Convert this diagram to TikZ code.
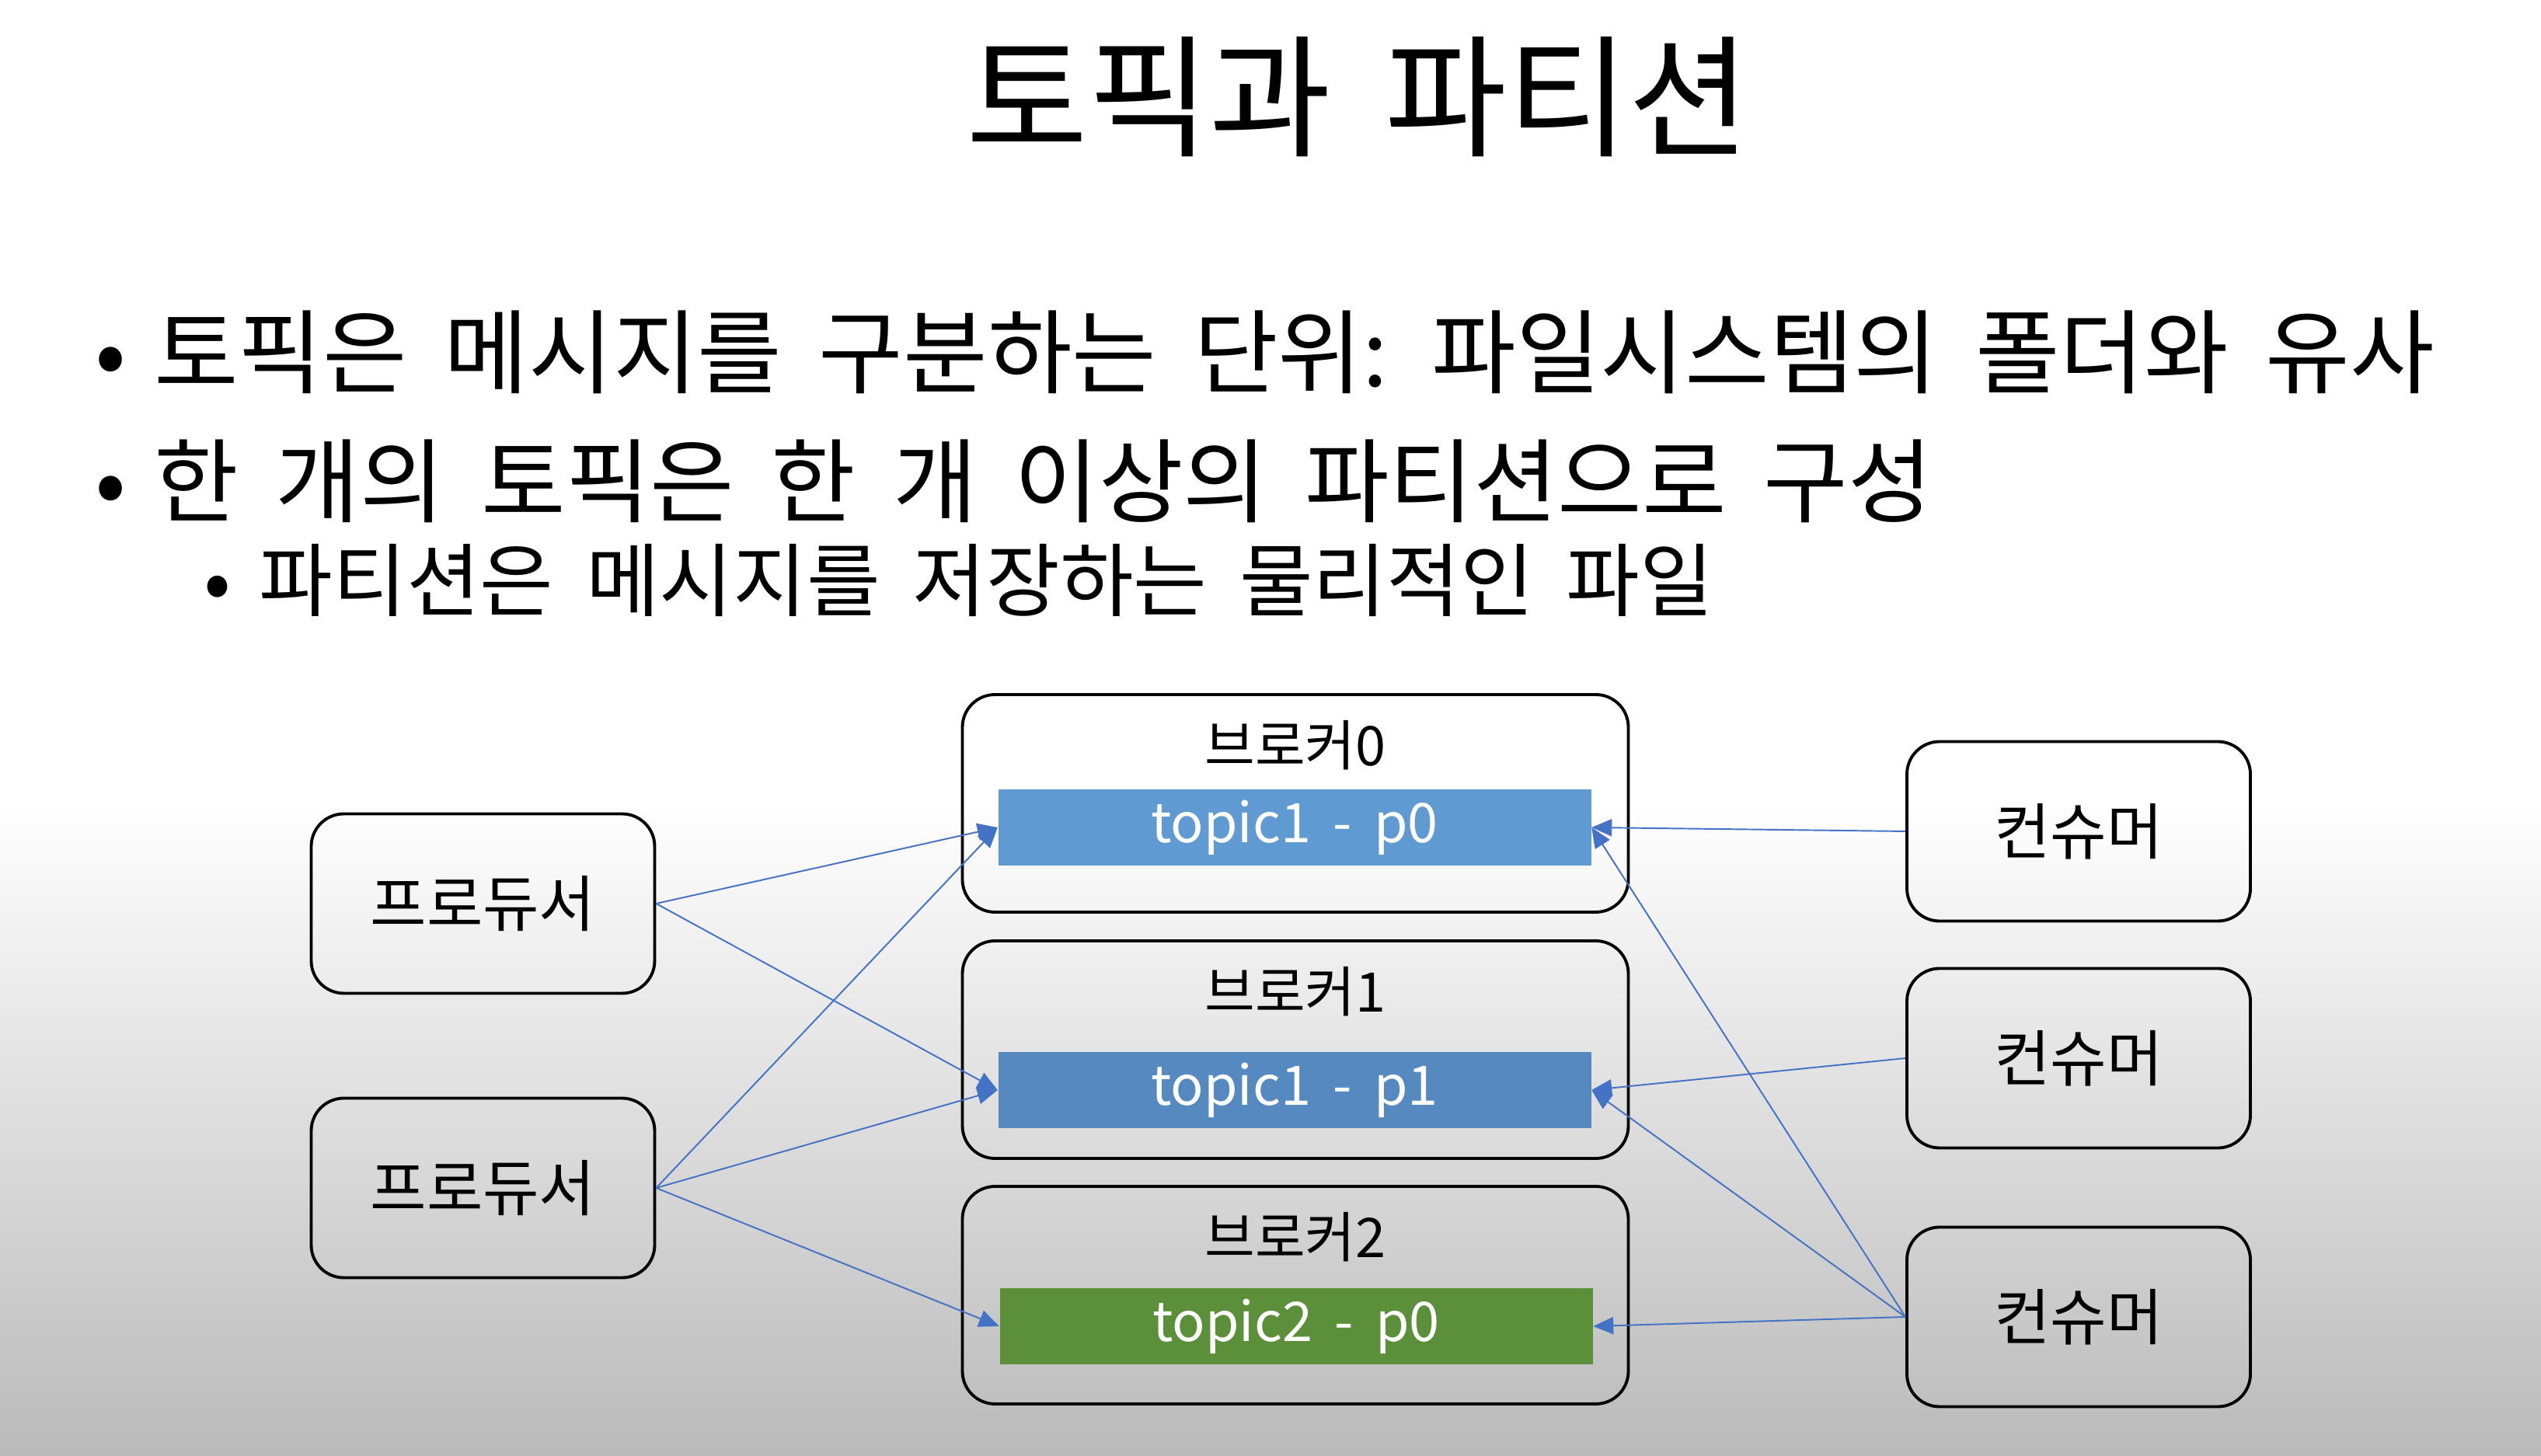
\documentclass[tikz,border=0pt]{standalone}
\usepackage{fontspec}
\setmainfont{Noto Sans CJK KR}[WordSpace=1.8]
\usetikzlibrary{arrows.meta,positioning}

\definecolor{linkblue}{HTML}{4472C4}
\definecolor{partblue}{HTML}{5F9BD2}
\definecolor{partdark}{HTML}{5589C0}
\definecolor{partgreen}{HTML}{5C8F3A}
\definecolor{bgbottom}{HTML}{BABABA}

\begin{document}
\begin{tikzpicture}[
    >={Triangle[length=2.6mm,width=2.2mm]},
    box/.style={
        rectangle,
        rounded corners=4.2mm,
        draw=black,
        line width=1.1pt,
        minimum width=4.42cm,
        minimum height=2.31cm,
        font=\fontsize{22.4}{27}\selectfont
    },
    broker/.style={
        rectangle,
        rounded corners=4.2mm,
        draw=black,
        line width=1.1pt,
        minimum width=8.57cm,
        minimum height=2.8cm
    },
    part/.style={
        rectangle,
        fill=#1,
        minimum width=7.63cm,
        minimum height=0.98cm,
        text=white,
        font=\fontsize{20}{24}\selectfont
    },
    blabel/.style={font=\fontsize{20}{24}\selectfont, inner sep=0pt},
    link/.style={->, draw=linkblue, line width=0.55pt},
    item/.style={anchor=west, inner sep=0pt, font=\fontsize{33.6}{40}\selectfont}
]
\useasboundingbox (0,0) rectangle (32.7,18.73);

% Background
\fill[white] (0,0) rectangle (32.7,18.73);
\shade[top color=white, bottom color=bgbottom] (0,0) rectangle (32.7,8.4);

% Title and bullets
\node[font=\fontsize{48.5}{58}\selectfont] (title) at (17.48,17.48) {토픽과 파티션};
\node[item] (item1) at (1.22,14.20) {•\hspace{0.3em}토픽은 메시지를 구분하는 단위: 파일시스템의 폴더와 유사};
\node[item] (item2) at (1.22,12.54) {•\hspace{0.3em}한 개의 토픽은 한 개 이상의 파티션으로 구성};
\node[item, font=\fontsize{29.3}{35}\selectfont] (item3) at (2.62,11.26) {•\hspace{0.35em}파티션은 메시지를 저장하는 물리적인 파일};

% Producers
\node[box] (prod1) at (6.215,7.10) {프로듀서};
\node[box] (prod2) at (6.215,3.44) {프로듀서};

% Brokers
\node[broker] (brk0) at (16.67,8.39) {};
\node[broker] (brk1) at (16.67,5.22) {};
\node[broker] (brk2) at (16.67,2.06) {};
\node[blabel] (lbl0) at (16.67,9.14) {브로커0};
\node[blabel] (lbl1) at (16.67,5.97) {브로커1};
\node[blabel] (lbl2) at (16.67,2.81) {브로커2};

% Partitions
\node[part=partblue] (part0) at (16.66,8.08) {topic1 - p0};
\node[part=partdark] (part1) at (16.66,4.70) {topic1 - p1};
\node[part=partgreen] (part2) at (16.68,1.66) {topic2 - p0};

% Consumers
\node[box] (cons1) at (26.75,8.03) {컨슈머};
\node[box] (cons2) at (26.75,5.11) {컨슈머};
\node[box] (cons3) at (26.75,1.78) {컨슈머};

% Producer links
\draw[link] (prod1.east) -- (part0.west);
\draw[link] (prod1.east) -- (part1.west);
\draw[link] (prod2.east) -- (part0.west);
\draw[link] (prod2.east) -- (part1.west);
\draw[link] (prod2.east) -- (part2.west);

% Consumer links
\draw[link] (cons1.west) -- (part0.east);
\draw[link] (cons2.west) -- (part1.east);
\draw[link] (cons3.west) -- (part0.east);
\draw[link] (cons3.west) -- (part1.east);
\draw[link] (cons3.west) -- (part2.east);

\end{tikzpicture}
\end{document}
